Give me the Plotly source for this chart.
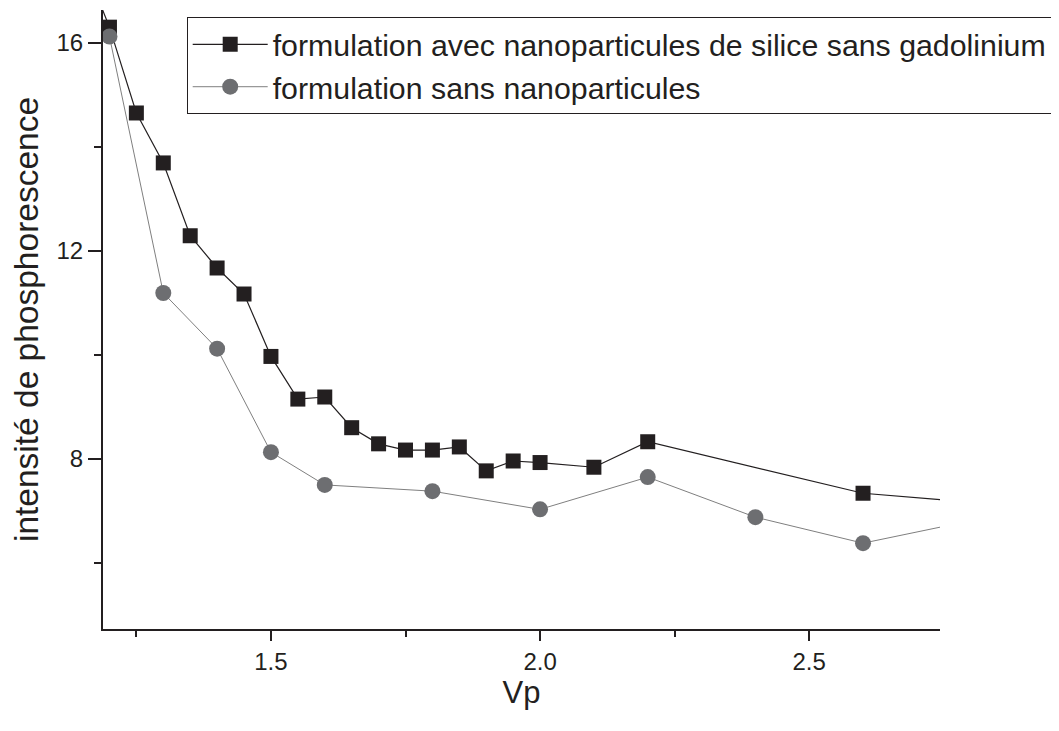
import plotly.graph_objects as go

# Series 1: formulation avec nanoparticules de silice sans gadolinium
x_avec = [1.15, 1.2, 1.25, 1.3, 1.35, 1.4, 1.45, 1.5, 1.55, 1.6, 1.65, 1.7, 1.75, 1.8,
          1.85, 1.9, 1.95, 2.0, 2.1, 2.2, 2.6, 2.8]
y_avec = [17.6, 16.3, 14.65, 13.69, 12.29, 11.67, 11.17, 9.97, 9.15, 9.19, 8.6, 8.29,
          8.17, 8.17, 8.23, 7.77, 7.96, 7.93, 7.84, 8.33, 7.34, 7.17]

# Series 2: formulation sans nanoparticules
x_sans = [1.2, 1.3, 1.4, 1.5, 1.6, 1.8, 2.0, 2.2, 2.4, 2.6, 2.8]
y_sans = [16.12, 11.19, 10.12, 8.13, 7.5, 7.38, 7.03, 7.65, 6.88, 6.38, 6.81]

name_avec = "formulation avec nanoparticules de silice sans gadolinium"
name_sans = "formulation sans nanoparticules"

x_title = "Vp"
y_title = "intensité de phosphorescence"

dark = "#231f20"
grey = "#6d6e71"
font = "Liberation Sans, Arial, sans-serif"

fig = go.Figure()
fig.add_trace(go.Scatter(
    x=x_avec, y=y_avec, name=name_avec, mode="lines+markers",
    line=dict(color=dark, width=1.2),
    marker=dict(symbol="square", size=15, color=dark, line=dict(width=0)),
))
fig.add_trace(go.Scatter(
    x=x_sans, y=y_sans, name=name_sans, mode="lines+markers",
    line=dict(color="#7f7f7f", width=1),
    marker=dict(symbol="circle", size=16, color=grey, line=dict(width=0)),
))

fig.update_layout(
    width=1059, height=731,
    paper_bgcolor="white", plot_bgcolor="white",
    margin=dict(l=95, r=127, t=2, b=110),
    font=dict(family=font, color=dark),
    showlegend=True,
    legend=dict(
        x=0.1, y=0.9885, xanchor="left", yanchor="top",
        bgcolor="white", bordercolor=dark, borderwidth=1,
        font=dict(size=30.3, family=font, color=dark),
        itemwidth=75, tracegroupgap=0,
    ),
    xaxis=dict(
        range=[1.188, 2.743], showgrid=False, zeroline=False, automargin=False,
        showline=True, linecolor=dark, linewidth=2,
        ticks="outside", ticklen=10, tickwidth=2, tickcolor=dark,
        tick0=0, dtick=0.5, tickformat=".1f",
        minor=dict(dtick=0.25, ticklen=6, tickwidth=2, tickcolor=dark, ticks="outside"),
        tickfont=dict(size=24, family=font, color=dark),
        title=dict(text=x_title, font=dict(size=31, family=font, color=dark), standoff=2),
    ),
    yaxis=dict(
        range=[4.73, 16.63], showgrid=False, zeroline=False, automargin=False,
        showline=True, linecolor=dark, linewidth=2,
        ticks="outside", ticklen=13, tickwidth=2, tickcolor=dark,
        tick0=0, dtick=4,
        minor=dict(dtick=2, ticklen=7, tickwidth=2, tickcolor=dark, ticks="outside"),
        tickfont=dict(size=24, family=font, color=dark),
        title=dict(text=y_title, font=dict(size=33.5, family=font, color=dark), standoff=14),
    ),
)

fig.write_html("out.html")
